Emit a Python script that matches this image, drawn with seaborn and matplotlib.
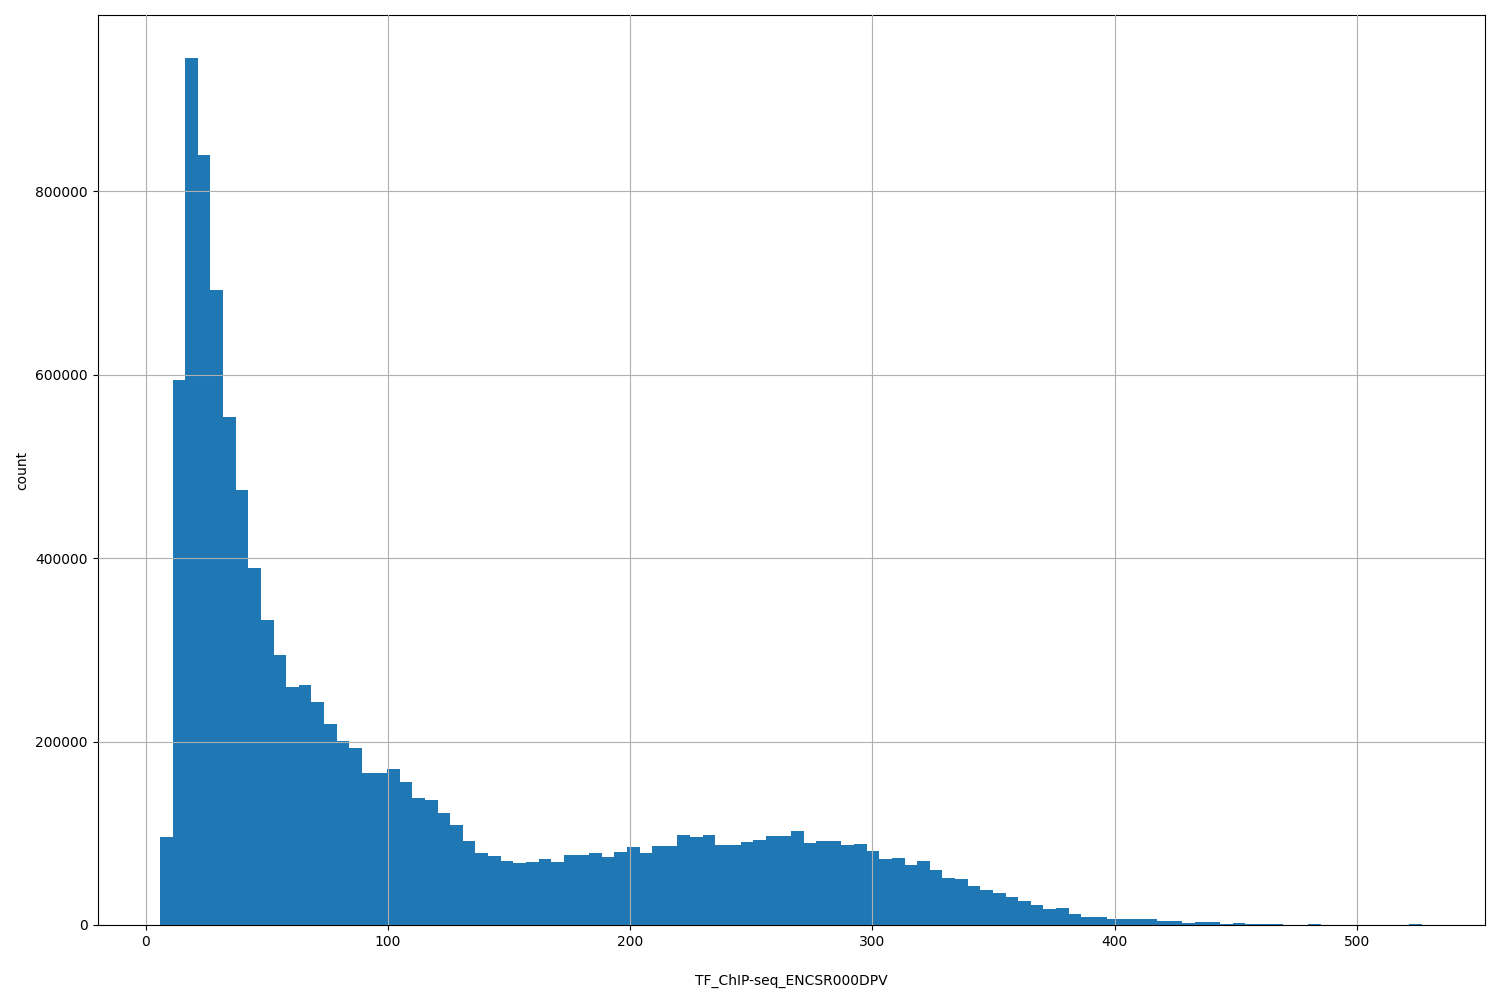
import numpy as np
import pandas as pd
import matplotlib
matplotlib.use("Agg")
import matplotlib.pyplot as plt
import seaborn as sns

x_label = "TF_ChIP-seq_ENCSR000DPV"
bin_lo, bin_hi, n_bins = 5.8, 527.0, 100

counts = [
    96000, 594000, 945000, 840000, 692000, 554000, 474000, 389000, 333000, 294000,
    260000, 262000, 243000, 219000, 201000, 193000, 166000, 166000, 170000, 156000,
    139000, 136000, 122000, 109000, 92000, 78000, 75000, 70000, 68000, 69000,
    72000, 69000, 76000, 76000, 79000, 74000, 80000, 85000, 79000, 86000,
    86000, 98000, 96000, 98000, 87000, 87000, 91000, 93000, 97000, 97000,
    102000, 89000, 92000, 92000, 87000, 88000, 81000, 72000, 73000, 65000,
    70000, 60000, 51000, 50000, 42000, 38000, 35000, 30000, 26000, 22000,
    17000, 18000, 12000, 9000, 9000, 6000, 6000, 6000, 7000, 4000,
    4000, 2000, 3000, 3000, 1500, 2500, 1000, 800, 600, 500,
    400, 1500, 300, 300, 200, 200, 200, 200, 300, 1500,
]

edges = np.linspace(bin_lo, bin_hi, n_bins + 1)
df = pd.DataFrame({"value": (edges[:-1] + edges[1:]) / 2, "count": counts})

fig, ax = plt.subplots(figsize=(15, 10), dpi=100)
fig.subplots_adjust(left=0.065, right=0.99, top=0.985, bottom=0.075)
sns.histplot(data=df, x="value", weights="count", bins=n_bins,
             binrange=(bin_lo, bin_hi), ax=ax,
             color="#1f77b4", alpha=1, edgecolor="none", linewidth=0)
ax.set_axisbelow(False)
ax.grid(True, color="#b0b0b0", linewidth=0.8)
ax.set_xlabel(x_label, labelpad=18)
ax.set_ylabel("count")
ax.ticklabel_format(axis="y", style="plain")
ax.set_xlim(-20, 553)
plt.savefig("out.png", dpi=100)
